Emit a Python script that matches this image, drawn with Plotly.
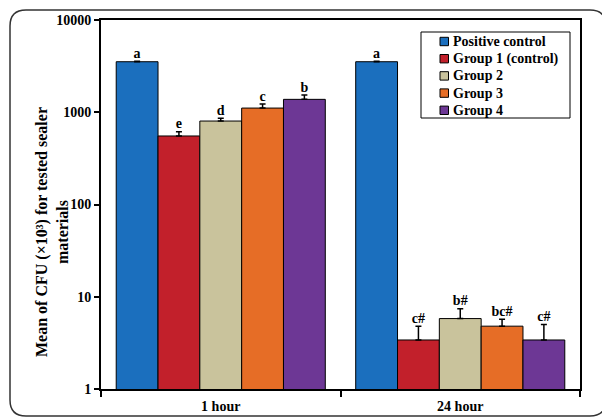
import plotly.graph_objects as go

categories = ["1 hour", "24 hour"]
groups = ["Positive control", "Group 1 (control)", "Group 2", "Group 3", "Group 4"]
colors = ["#1B6FBE", "#C2202B", "#C9C39C", "#E66D26", "#6D3795"]
ytick_vals = [1, 10, 100, 1000, 10000]

# mean CFU (x10^3) per group: [1 hour, 24 hour]
means = {
    "Positive control": [3530, 3530],
    "Group 1 (control)": [553, 3.4],
    "Group 2": [803, 5.8],
    "Group 3": [1110, 4.8],
    "Group 4": [1380, 3.4],
}
errors = {
    "Positive control": [40, 40],
    "Group 1 (control)": [62, 1.4],
    "Group 2": [56, 1.6],
    "Group 3": [117, 0.9],
    "Group 4": [158, 1.6],
}
letters = {
    "Positive control": ["a", "a"],
    "Group 1 (control)": ["e", "c#"],
    "Group 2": ["d", "b#"],
    "Group 3": ["c", "bc#"],
    "Group 4": ["b", "c#"],
}

FONT = "Liberation Serif"
bargap = 0.127
n = len(groups)
w = (1 - bargap) / n

# page geometry (browser body margin = 8px)
PLOT_L, PLOT_R, PLOT_T, PLOT_B = 101, 580, 20, 389
def px(X):
    return (X - PLOT_L) / (PLOT_R - PLOT_L)
def py(Y):
    return (PLOT_B - Y) / (PLOT_B - PLOT_T)

fig = go.Figure()
for i, g in enumerate(groups):
    xs = [c + (i - (n - 1) / 2) * w for c in range(len(categories))]
    fig.add_trace(go.Bar(
        x=xs, y=means[g], width=w, name=g, showlegend=False,
        marker=dict(color=colors[i], line=dict(color="black", width=1)),
        error_y=dict(type="data", array=errors[g], arrayminus=[0] * len(categories),
                     symmetric=False, color="black", thickness=1.5, width=3),
    ))
for i, g in enumerate(groups):
    xs = [c + (i - (n - 1) / 2) * w for c in range(len(categories))]
    tops = [m + e for m, e in zip(means[g], errors[g])]
    fig.add_trace(go.Scatter(
        x=xs, y=tops, mode="text", text=[f"<b>{t}</b>" for t in letters[g]],
        textposition="top center",
        textfont=dict(family=FONT, size=14, color="black"),
        showlegend=False, hoverinfo="skip", cliponaxis=False,
    ))

# outer rounded frame
L, R, B, T = px(10), px(606), py(416), py(10)
rx, ry = 16 / 479, 16 / 369
path = (f"M {L+rx},{T} L {R-rx},{T} Q {R},{T} {R},{T-ry} L {R},{B+ry} Q {R},{B} {R-rx},{B} "
        f"L {L+rx},{B} Q {L},{B} {L},{B+ry} L {L},{T-ry} Q {L},{T} {L+rx},{T} Z")
fig.add_shape(type="path", path=path, xref="paper", yref="paper",
              line=dict(color="#333333", width=1.5), layer="below")

# legend box drawn manually
fig.add_shape(type="rect", xref="paper", yref="paper",
              x0=px(421), x1=px(570), y0=py(118), y1=py(32),
              line=dict(color="black", width=1), fillcolor="white")
item_y0, item_dy = 41.5, 17.2
for i, g in enumerate(groups):
    yc = item_y0 + i * item_dy
    fig.add_shape(type="rect", xref="paper", yref="paper",
                  x0=px(440), x1=px(448.5), y0=py(yc + 4.2), y1=py(yc - 4.2),
                  line=dict(color="black", width=1), fillcolor=colors[i])
    fig.add_annotation(x=px(451), y=py(yc), xref="paper", yref="paper",
                       xanchor="left", yanchor="middle", showarrow=False,
                       text=f"<b>{g}</b>", font=dict(family=FONT, size=14, color="black"))

# y-axis title
fig.add_annotation(x=px(52), y=py(232), xref="paper", yref="paper",
                   xanchor="center", yanchor="middle", showarrow=False, textangle=-90,
                   text="<b>Mean of CFU (×10³) for tested sealer<br>materials</b>",
                   font=dict(family=FONT, size=16, color="black"))

fig.update_layout(
    width=602, height=411,
    margin=dict(l=93, r=30, t=12, b=30, autoexpand=False),
    paper_bgcolor="white", plot_bgcolor="white",
    barmode="overlay",
    font=dict(family=FONT, color="black"),
    showlegend=False,
)
fig.update_xaxes(
    automargin=False,
    range=[-0.5, 1.5], tickvals=list(range(len(categories))),
    ticktext=[f"<b>{c}</b>" for c in categories],
    ticks="", showgrid=False, zeroline=False, ticklabelstandoff=3,
    showline=True, linecolor="black", linewidth=2, mirror=True,
    tickfont=dict(family=FONT, size=14, color="black"),
    minor=dict(tickvals=[-0.5, 0.5, 1.5], ticks="outside", ticklen=6,
               tickcolor="black", tickwidth=1.5, showgrid=False),
)
fig.update_yaxes(
    automargin=False,
    type="log", range=[0, 4],
    tickvals=ytick_vals, ticktext=[f"<b>{v}</b>" for v in ytick_vals],
    ticks="outside", ticklen=5, tickcolor="black", tickwidth=1.5,
    showgrid=False, zeroline=False,
    showline=True, linecolor="black", linewidth=2, mirror=True,
    tickfont=dict(family=FONT, size=14, color="black"),
)

fig.write_html("out.html")
